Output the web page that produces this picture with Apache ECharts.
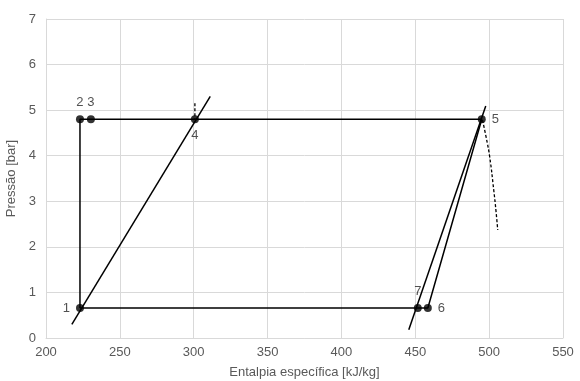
<!DOCTYPE html>
<html>
<head>
<meta charset="utf-8">
<script src="https://cdn.jsdelivr.net/npm/echarts@6/dist/echarts.min.js"></script>
<style>
  html, body { margin: 0; padding: 0; background: #fff; }
  #chart { width: 580px; height: 381px; }
</style>
</head>
<body>
<div id="chart"></div>
<script>
// cycle state points
const stateNames = ['1', '2', '3', '4', '5', '6', '7'];
const stateH = [223, 223, 230.4, 300.8, 495, 458.5, 451.7];
const stateP = [0.66, 4.8, 4.8, 4.8, 4.8, 0.66, 0.66];
const labelPos = ['left', 'top', 'top', 'bottom', 'right', 'right', 'top'];

// cycle path order (indices into state arrays)
const cycleOrder = [0, 1, 2, 3, 4, 5, 6, 0];

// extra lines
const liquidLine = [[217.5, 0.3], [311.2, 5.3]];
const vaporLine = [[445.6, 0.18], [497.7, 5.09]];
const dashed4 = [[300.8, 5.15], [300.8, 4.8]];
const dashed5 = [[495.5, 4.78], [498, 4.4], [500.4, 3.97], [503.1, 3.25], [504.6, 2.8], [505.8, 2.37]];

const xTicks = { min: 200, max: 550, interval: 50 };
const yTicks = { min: 0, max: 7, interval: 1 };

const chart = echarts.init(document.getElementById('chart'));

const cycleData = cycleOrder.map(i => [stateH[i], stateP[i]]);
const pointData = stateNames.map((n, i) => ({
    value: [stateH[i], stateP[i]],
    name: n,
    label: { position: labelPos[i] }
}));

const thin = { color: '#000', width: 1.5 };
const txt = '#595959';

chart.setOption({
    animation: false,
    grid: { left: 46, right: 17, top: 19, bottom: 43, outerBoundsMode: 'none', containLabel: false },
    xAxis: {
        type: 'value',
        min: xTicks.min, max: xTicks.max, interval: xTicks.interval,
        name: 'Entalpia específica [kJ/kg]',
        nameLocation: 'middle', nameGap: 28,
        nameTextStyle: { fontFamily: 'Liberation Sans', fontSize: 13, color: txt },
        axisLine: { show: true, lineStyle: { color: '#d9d9d9' } },
        axisTick: { show: false },
        axisLabel: { fontFamily: 'Liberation Sans', fontSize: 13, color: txt, margin: 8 },
        splitLine: { show: true, lineStyle: { color: '#d9d9d9', width: 1 } }
    },
    yAxis: {
        type: 'value',
        min: yTicks.min, max: yTicks.max, interval: yTicks.interval,
        name: 'Pressão [bar]',
        nameLocation: 'middle', nameGap: 20,
        nameTextStyle: { fontFamily: 'Liberation Sans', fontSize: 13, color: txt },
        axisLine: { show: true, lineStyle: { color: '#d9d9d9' } },
        axisTick: { show: false },
        axisLabel: { fontFamily: 'Liberation Sans', fontSize: 13, color: txt, margin: 10 },
        splitLine: { show: true, lineStyle: { color: '#d9d9d9', width: 1 } }
    },
    series: [
        { type: 'line', data: liquidLine, symbol: 'none', lineStyle: thin },
        { type: 'line', data: vaporLine, symbol: 'none', lineStyle: thin },
        { type: 'line', data: dashed4, symbol: 'none', lineStyle: { color: '#000', width: 1.3, type: [3, 2] } },
        { type: 'line', data: dashed5, symbol: 'none', smooth: true, lineStyle: { color: '#000', width: 1.3, type: [3, 2] } },
        { type: 'line', data: cycleData, symbol: 'none', lineStyle: thin },
        {
            type: 'scatter',
            data: pointData,
            symbolSize: 8,
            itemStyle: { color: '#000' },
            label: {
                show: true,
                formatter: p => p.name,
                fontFamily: 'Liberation Sans',
                fontSize: 13,
                color: '#262626',
                distance: 6
            },
            z: 5
        }
    ]
});
window.addEventListener('resize', () => chart.resize());
</script>
</body>
</html>
